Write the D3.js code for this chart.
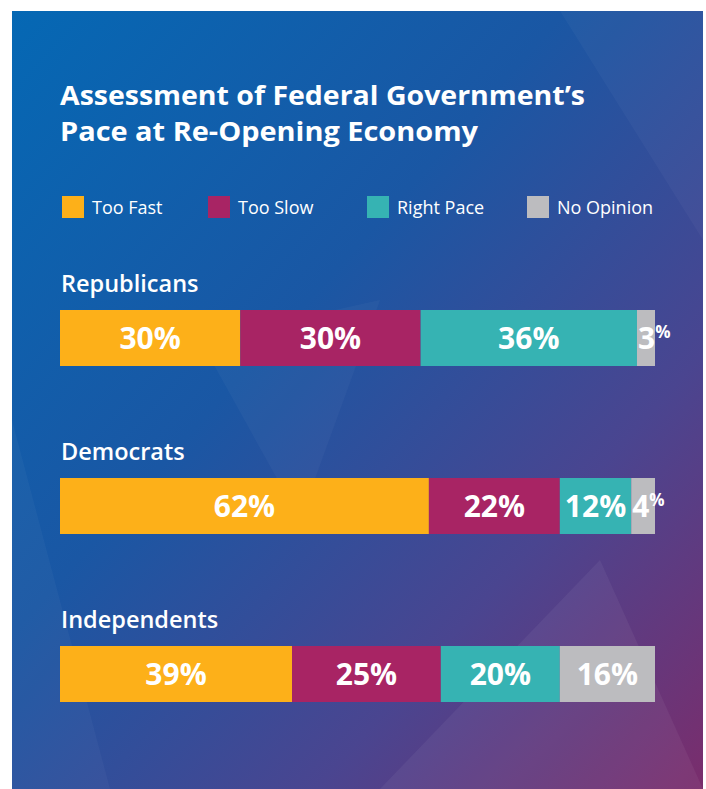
<!DOCTYPE html>
<html>
<head>
<meta charset="utf-8">
<script src="https://cdn.jsdelivr.net/npm/d3@7"></script>
<style>
  html, body { margin: 0; padding: 0; background: #ffffff; }
  svg { display: block; }
</style>
</head>
<body>
<svg id="chart" width="706" height="789"></svg>
<script>

const title_lines = ["Assessment of Federal Government\u2019s", "Pace at Re-Opening Economy"];
const categories = ["Too Fast", "Too Slow", "Right Pace", "No Opinion"];
const colors = ["#fdb019", "#a82464", "#36b3b3", "#bcbcbf"];
const groups = ["Republicans", "Democrats", "Independents"];
const republicans = [30, 30, 36, 3];
const democrats = [62, 22, 12, 4];
const independents = [39, 25, 20, 16];
const values = [republicans, democrats, independents];

const svg = d3.select('#chart');

// panel background
const defs = svg.append('defs');
const grad = defs.append('linearGradient')
    .attr('id', 'bg-grad')
    .attr('x1', '0%').attr('y1', '0%')
    .attr('x2', '100%').attr('y2', '100%');
grad.append('stop').attr('offset', '0%').attr('stop-color', '#0568b4');
grad.append('stop').attr('offset', '40%').attr('stop-color', '#1a57a4');
grad.append('stop').attr('offset', '72%').attr('stop-color', '#4a4590');
grad.append('stop').attr('offset', '100%').attr('stop-color', '#7a2d6c');

const panel = {x: 12, y: 11, w: 691, h: 778};
svg.append('rect')
    .attr('x', panel.x).attr('y', panel.y)
    .attr('width', panel.w).attr('height', panel.h)
    .attr('fill', 'url(#bg-grad)');

// faint facets in the background
const facets = [
    [[12, 420], [12, 789], [110, 789]],
    [[380, 789], [600, 560], [703, 789]],
    [[560, 11], [703, 11], [703, 240]],
    [[200, 340], [380, 300], [300, 520]]
];
svg.append('g').selectAll('path')
    .data(facets)
    .enter()
  .append('path')
    .attr('d', d => 'M' + d.join('L') + 'Z')
    .attr('fill', '#ffffff')
    .attr('fill-opacity', (d, i) => i === 1 ? 0.05 : 0.03);

// title
const title_widths = [525, 418];
svg.append('g').selectAll('text')
    .data(title_lines)
    .enter()
  .append('text')
    .attr('x', 60)
    .attr('y', (d, i) => 105 + i * 36)
    .attr('fill', '#ffffff')
    .attr('font-family', '"Open Sans", sans-serif')
    .attr('font-weight', 700)
    .attr('font-size', '27px')
    .attr('textLength', (d, i) => title_widths[i])
    .attr('lengthAdjust', 'spacingAndGlyphs')
    .text(d => d);

// legend
const legend_x = d3.scaleOrdinal().domain(categories).range([62, 208, 367, 527]);
const legend = svg.append('g').selectAll('g')
    .data(categories)
    .enter()
  .append('g')
    .attr('transform', d => `translate(${legend_x(d)},196)`);
legend.append('rect')
    .attr('width', 22).attr('height', 22)
    .attr('fill', (d, i) => colors[i]);
legend.append('text')
    .attr('x', 30).attr('y', 17.5)
    .attr('fill', '#ffffff')
    .attr('font-family', '"Open Sans", sans-serif')
    .attr('font-size', '18px')
    .text(d => d);

// bars
const row_y = d3.scaleBand().domain(groups).range([310, 702]).paddingInner(2 / 3).paddingOuter(0);

groups.forEach(function(g, gi){
    const row = values[gi];
    const total = d3.sum(row);
    const x = d3.scaleLinear().domain([0, total]).range([60, 655]);
    const starts = d3.cumsum([0].concat(row)).slice(0, row.length);
    const y0 = row_y(g), bh = row_y.bandwidth();

    svg.append('text')
        .attr('x', 61).attr('y', y0 - 18)
        .attr('fill', '#ffffff')
        .attr('font-family', '"Open Sans", sans-serif')
        .attr('font-weight', 600)
        .attr('font-size', '23.5px')
        .text(g);

    const seg = svg.append('g').selectAll('g')
        .data(row.map((v, i) => ({v: v, s: starts[i], i: i})))
        .enter()
      .append('g');

    seg.append('rect')
        .attr('x', d => x(d.s))
        .attr('y', y0)
        .attr('width', d => x(d.s + d.v) - x(d.s))
        .attr('height', bh)
        .attr('fill', d => colors[d.i]);

    seg.each(function(d){
        const small = d.v < 5;
        const t = d3.select(this).append('text')
            .attr('y', y0 + bh / 2 + 11)
            .attr('fill', '#ffffff')
            .attr('font-family', '"Open Sans", sans-serif')
            .attr('font-weight', 700)
            .attr('font-size', '30px');
        if(small){
            t.attr('x', x(d.s) + 1).attr('text-anchor', 'start');
            t.append('tspan').text(d.v);
            t.append('tspan')
                .attr('font-size', '17px')
                .attr('dy', '-11')
                .text('%');
        } else {
            t.attr('x', (x(d.s) + x(d.s + d.v)) / 2)
                .attr('text-anchor', 'middle')
                .text(d.v + '%');
        }
    });
});

</script>
</body>
</html>
